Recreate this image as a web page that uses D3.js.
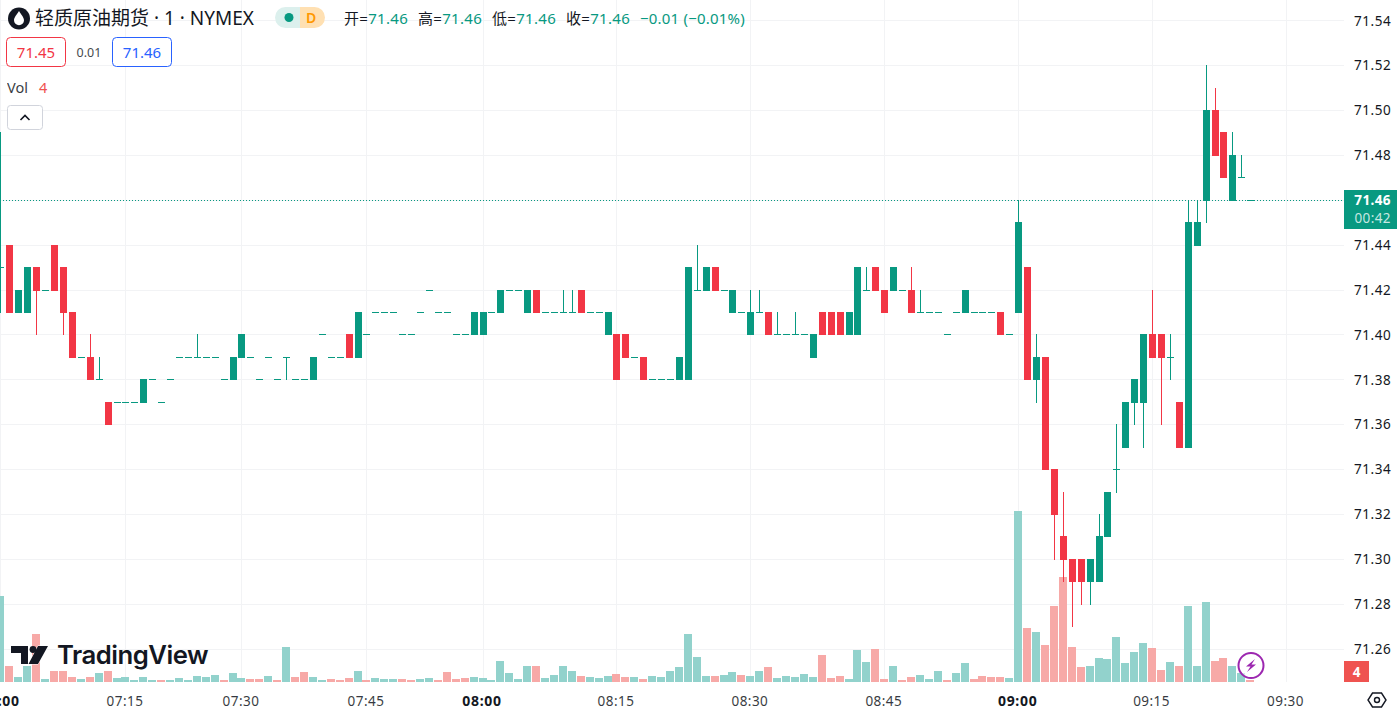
<!DOCTYPE html>
<html><head><meta charset="utf-8">
<style>
html,body{margin:0;padding:0;background:#fff;overflow:hidden}
svg{display:block}
text{font-family:"Noto Sans","Noto Sans CJK SC",sans-serif;fill:#131722}
</style>
<script src="https://cdnjs.cloudflare.com/ajax/libs/d3/7.9.0/d3.min.js"></script>
</head><body><svg id="c" width="1397" height="713"></svg>
<script>
const opens=[71.43,71.44,71.41,71.41,71.43,71.42,71.44,71.43,71.41,71.39,
71.39,71.38,71.37,71.37,71.37,71.37,71.37,71.38,71.37,71.38,
71.39,71.39,71.39,71.39,71.39,71.38,71.38,71.39,71.39,71.38,
71.39,71.38,71.39,71.38,71.38,71.38,71.40,71.39,71.39,71.40,
71.39,71.40,71.41,71.41,71.41,71.40,71.40,71.41,71.42,71.41,
71.41,71.40,71.40,71.40,71.40,71.41,71.41,71.42,71.42,71.41,
71.42,71.41,71.41,71.41,71.41,71.42,71.41,71.41,71.40,71.40,
71.40,71.39,71.39,71.38,71.38,71.38,71.38,71.38,71.42,71.42,
71.43,71.42,71.41,71.41,71.40,71.41,71.41,71.40,71.40,71.40,
71.40,71.39,71.41,71.41,71.41,71.40,71.40,71.42,71.43,71.42,
71.42,71.42,71.42,71.41,71.41,71.41,71.40,71.41,71.41,71.41,
71.41,71.41,71.41,71.40,71.41,71.43,71.38,71.39,71.34,71.31,
71.30,71.30,71.29,71.29,71.31,71.34,71.35,71.37,71.37,71.40,
71.40,71.39,71.37,71.35,71.44,71.46,71.50,71.49,71.46,71.47,71.46];
const closes=[71.43,71.41,71.42,71.43,71.42,71.42,71.42,71.41,71.39,71.39,
71.38,71.38,71.36,71.37,71.37,71.37,71.38,71.38,71.37,71.38,
71.39,71.39,71.39,71.39,71.39,71.38,71.39,71.40,71.39,71.38,
71.39,71.38,71.39,71.38,71.38,71.39,71.40,71.39,71.39,71.39,
71.41,71.40,71.41,71.41,71.41,71.40,71.40,71.41,71.42,71.41,
71.41,71.40,71.40,71.41,71.41,71.41,71.42,71.42,71.42,71.42,
71.41,71.41,71.41,71.41,71.41,71.41,71.41,71.41,71.41,71.38,
71.39,71.39,71.38,71.38,71.38,71.38,71.39,71.43,71.42,71.43,
71.42,71.42,71.42,71.41,71.41,71.41,71.40,71.40,71.40,71.40,
71.40,71.40,71.40,71.40,71.40,71.41,71.43,71.42,71.42,71.41,
71.43,71.42,71.41,71.41,71.41,71.41,71.40,71.41,71.42,71.41,
71.41,71.41,71.40,71.40,71.45,71.38,71.39,71.34,71.32,71.30,
71.29,71.29,71.30,71.31,71.33,71.34,71.37,71.38,71.40,71.39,
71.39,71.39,71.35,71.45,71.45,71.50,71.48,71.47,71.48,71.47,71.46];
const highs=[71.49,71.44,71.42,71.43,71.43,71.42,71.44,71.43,71.41,71.39,
71.40,71.39,71.37,71.37,71.37,71.37,71.38,71.38,71.37,71.38,
71.39,71.39,71.40,71.39,71.39,71.38,71.39,71.40,71.39,71.38,
71.39,71.38,71.39,71.38,71.38,71.39,71.40,71.39,71.39,71.40,
71.41,71.40,71.41,71.41,71.41,71.40,71.40,71.41,71.42,71.41,
71.41,71.40,71.40,71.41,71.41,71.41,71.42,71.42,71.42,71.42,
71.42,71.41,71.41,71.42,71.42,71.42,71.41,71.41,71.41,71.40,
71.40,71.39,71.39,71.38,71.38,71.38,71.39,71.43,71.44,71.43,
71.43,71.42,71.42,71.41,71.42,71.42,71.41,71.41,71.40,71.41,
71.40,71.40,71.41,71.41,71.41,71.41,71.43,71.43,71.43,71.42,
71.43,71.42,71.43,71.42,71.41,71.41,71.40,71.41,71.42,71.41,
71.41,71.41,71.41,71.40,71.46,71.43,71.40,71.39,71.34,71.33,
71.30,71.30,71.30,71.32,71.33,71.36,71.37,71.38,71.40,71.42,
71.40,71.40,71.37,71.46,71.46,71.52,71.51,71.49,71.49,71.48,71.46];
const lows=[71.41,71.41,71.41,71.41,71.40,71.42,71.42,71.40,71.39,71.39,
71.38,71.38,71.36,71.37,71.37,71.37,71.37,71.38,71.37,71.38,
71.39,71.39,71.39,71.39,71.39,71.38,71.38,71.39,71.39,71.38,
71.39,71.38,71.38,71.38,71.38,71.38,71.40,71.39,71.39,71.39,
71.39,71.40,71.41,71.41,71.41,71.40,71.40,71.41,71.42,71.41,
71.41,71.40,71.40,71.40,71.40,71.41,71.41,71.42,71.42,71.41,
71.41,71.41,71.41,71.41,71.41,71.41,71.41,71.41,71.40,71.38,
71.39,71.39,71.38,71.38,71.38,71.38,71.38,71.38,71.42,71.42,
71.42,71.42,71.41,71.41,71.40,71.41,71.40,71.40,71.40,71.40,
71.40,71.39,71.40,71.40,71.40,71.40,71.40,71.42,71.42,71.41,
71.42,71.42,71.41,71.41,71.41,71.41,71.40,71.41,71.41,71.41,
71.41,71.41,71.40,71.40,71.41,71.38,71.37,71.34,71.30,71.29,
71.27,71.28,71.28,71.29,71.31,71.33,71.35,71.36,71.35,71.39,
71.36,71.38,71.35,71.35,71.44,71.45,71.48,71.47,71.46,71.47,71.46];
const volumes=[172,32,10,32,96,6,22,22,10,6,
10,18,22,8,10,4,10,4,4,4,
8,4,12,10,14,4,18,8,6,6,
12,4,70,10,20,10,4,6,4,8,
22,4,8,6,6,6,4,6,8,4,
20,6,8,10,8,4,42,18,6,32,
32,8,14,32,22,12,10,8,12,16,
10,10,6,12,10,22,30,96,50,12,
12,14,20,14,12,22,30,8,12,10,
16,10,54,8,12,6,64,40,66,6,
32,4,10,14,6,22,4,18,38,6,
12,10,10,8,342,108,100,74,152,210,
70,30,32,48,46,90,38,60,78,68,
24,40,32,152,32,160,42,48,32,18,4];
const volumeDownBars=[1,4,6,7,8,10,12,18,25,28,29,31,33,34,37,38,39,41,45,46,49,50,51,52,60,65,69,70,72,80,83,86,92,93,94,98,99,101,102,106,109,110,111,112,115,117,118,119,120,121,129,130,132,136,137,140];
const timeTickBars=[0,14,27,41,54,69,84,99,114,129,144];
const timeTickLabels=["07:00","07:15","07:30","07:45","08:00","08:15","08:30","08:45","09:00","09:15","09:30"];
const boldTimeLabels=["07:00","08:00","09:00"];
const priceTicks=[71.26,71.28,71.30,71.32,71.34,71.36,71.38,71.40,71.42,71.44,71.46,71.48,71.50,71.52,71.54];
const lastPrice=71.46, lastVolume=4;
const titleText="轻质原油期货 · 1 · NYMEX";
const ohlcParts=[["开=","71.46"],["高=","71.46"],["低=","71.46"],["收=","71.46"]];
const changeText="−0.01 (−0.01%)";

const GREEN="#089981",RED="#f23645",TEXT="#131722",GRID="#f2f3f5";
const PANE_W=1344,PANE_B=682;
const svg=d3.select("#c");
const x=d3.scaleLinear().domain([0,114]).range([0.964,1018.665]);
const y=d3.scaleLinear().domain([71.26,71.54]).range([649.1,20.7]);
const yVol=d3.scaleLinear().domain([0,342]).range([PANE_B,511]);
const xc=i=>Math.floor(x(i));
const yp=v=>Math.floor(y(v));
const n=opens.length,bars=d3.range(n);
const isDownVol=new Set(volumeDownBars);

// grid
const grid=svg.append("g").attr("shape-rendering","crispEdges").attr("stroke",GRID);
grid.selectAll("line.h").data(priceTicks).join("line").attr("class","h")
 .attr("x1",0).attr("x2",PANE_W).attr("y1",d=>yp(d)+.5).attr("y2",d=>yp(d)+.5);
grid.selectAll("line.v").data(timeTickBars).join("line").attr("class","v")
 .attr("x1",d=>xc(d)+.5).attr("x2",d=>xc(d)+.5).attr("y1",0).attr("y2",PANE_B);

// volume
svg.append("g").attr("shape-rendering","crispEdges").selectAll("rect").data(bars).join("rect")
 .attr("x",i=>xc(i)-4).attr("width",8)
 .attr("y",i=>yVol(volumes[i])).attr("height",i=>PANE_B-yVol(volumes[i]))
 .attr("fill",i=>isDownVol.has(i)?"#f7a9a7":"#92d2cc");

// candles
const candle=svg.append("g").attr("shape-rendering","crispEdges");
candle.selectAll("rect.w").data(bars).join("rect").attr("class","w")
 .attr("x",i=>xc(i)).attr("width",1)
 .attr("y",i=>yp(highs[i])).attr("height",i=>yp(lows[i])-yp(highs[i])+1)
 .attr("fill",i=>closes[i]<opens[i]?RED:GREEN);
candle.selectAll("rect.b").data(bars).join("rect").attr("class","b")
 .attr("x",i=>xc(i)-3).attr("width",7)
 .attr("y",i=>yp(Math.max(opens[i],closes[i])))
 .attr("height",i=>yp(Math.min(opens[i],closes[i]))-yp(Math.max(opens[i],closes[i]))+1)
 .attr("fill",i=>closes[i]<opens[i]?RED:GREEN);

// last price line
svg.append("line").attr("x1",0).attr("x2",PANE_W).attr("y1",yp(lastPrice)+.5).attr("y2",yp(lastPrice)+.5)
 .attr("stroke",GREEN).attr("stroke-width",1).attr("stroke-dasharray","1 2");

// price axis
const yAxis=d3.axisRight(y).tickValues(priceTicks.filter(v=>v!==lastPrice)).tickSize(0).tickPadding(0).tickFormat(d3.format(".2f"));
const gy=svg.append("g").attr("transform",`translate(1354,0)`).call(yAxis);
gy.select(".domain").remove();
gy.selectAll("text").attr("font-size",13.5).style("letter-spacing","0.55px").attr("fill",TEXT).style("font-family",'"Noto Sans"');

// time axis
const timeLabel=new Map(timeTickBars.map((b,i)=>[b,timeTickLabels[i]]));
const xAxis=d3.axisBottom(x).tickValues(timeTickBars).tickSize(0).tickPadding(0).tickFormat(b=>timeLabel.get(b));
const gx=svg.append("g").attr("transform",`translate(-1.5,696)`).call(xAxis);
gx.select(".domain").remove();
gx.selectAll("text")
 .attr("font-size",b=>boldTimeLabels.includes(timeLabel.get(b))?14:13.5)
 .style("letter-spacing",b=>boldTimeLabels.includes(timeLabel.get(b))?"0.7px":"0.45px")
 .attr("font-weight",b=>boldTimeLabels.includes(timeLabel.get(b))?700:400).attr("fill",TEXT).style("opacity",b=>boldTimeLabels.includes(timeLabel.get(b))?1:.85);

// price label
svg.append("rect").attr("x",PANE_W).attr("y",190).attr("width",53).attr("height",39).attr("fill",GREEN);
svg.append("text").attr("x",1391).attr("y",205).attr("text-anchor","end").attr("font-size",13.5).attr("font-weight",700).style("fill","#fff").style("letter-spacing","0.4px").text(d3.format(".2f")(lastPrice));
svg.append("text").attr("x",1391).attr("y",223).attr("text-anchor","end").attr("font-size",13.5).style("fill","#c6e8e2").style("letter-spacing","0.4px").text("00:42");
// volume label
svg.append("rect").attr("x",PANE_W).attr("y",661).attr("width",25).attr("height",21).attr("fill","#ef5350");
svg.append("text").attr("x",1356.5).attr("y",677).attr("text-anchor","middle").attr("font-size",13.5).attr("font-weight",700).style("fill","#fff").text(lastVolume);

// header
const h=svg.append("g");
h.append("circle").attr("cx",19).attr("cy",18.5).attr("r",11).attr("fill","#131722");
h.append("path").attr("d","M19 11 C21.5 15 24 17.5 24 20.2 A5 5 0 0 1 14 20.2 C14 17.5 16.5 15 19 11 Z").attr("fill","#fff");
h.append("text").attr("x",35).attr("y",24.5).attr("font-size",19).text(titleText);
h.append("path").attr("d","M300 7 H285.5 A10.5 10.5 0 0 0 285.5 28 H300 Z").attr("fill","#dcf0ed");
h.append("path").attr("d","M300 7 H314.5 A10.5 10.5 0 0 1 314.5 28 H300 Z").attr("fill","#ffe0b2");
h.append("circle").attr("cx",289).attr("cy",17.5).attr("r",4.5).attr("fill",GREEN);
h.append("text").attr("x",311).attr("y",22.5).attr("text-anchor","middle").attr("font-size",14).attr("font-weight",600).style("fill","#ff9800").text("D");
ohlcParts.forEach((p,i)=>{
  const t=h.append("text").attr("x",344+i*74).attr("y",24).attr("font-size",15).style("letter-spacing","0.3px");
  t.append("tspan").text(p[0]);
  t.append("tspan").style("fill",GREEN).text(p[1]);
});
h.append("text").attr("x",640).attr("y",24).attr("font-size",15).style("letter-spacing","0.2px").style("fill",GREEN).text(changeText);
h.append("rect").attr("x",6.5).attr("y",37.5).attr("width",59).attr("height",29).attr("rx",4).attr("fill","#fff").attr("stroke",RED);
h.append("text").attr("x",36).attr("y",58).attr("text-anchor","middle").attr("font-size",15).style("fill",RED).text("71.45");
h.append("text").attr("x",89).attr("y",57).attr("text-anchor","middle").attr("font-size",12.5).attr("opacity",.8).text("0.01");
h.append("rect").attr("x",112.5).attr("y",37.5).attr("width",59).attr("height",29).attr("rx",4).attr("fill","#fff").attr("stroke","#2962ff");
h.append("text").attr("x",142).attr("y",58).attr("text-anchor","middle").attr("font-size",15).style("fill","#2962ff").text("71.46");
h.append("text").attr("x",7).attr("y",92.5).attr("font-size",14.5).attr("opacity",.85).text("Vol");
h.append("text").attr("x",39).attr("y",92.5).attr("font-size",14.5).style("fill","#ef5350").text(lastVolume);
h.append("rect").attr("x",7.5).attr("y",105.5).attr("width",35).attr("height",24).attr("rx",3).attr("fill","#fff").attr("stroke","#d1d4dc");
h.append("path").attr("d","M20.5 120 L25 115.5 L29.5 120").attr("fill","none").attr("stroke",TEXT).attr("stroke-width",1.6);

// watermark
const w=svg.append("g");
w.append("path").attr("d","M11 646H28V664H21V653H11Z M38 646H48L38 664H28.5Z").attr("fill",TEXT).attr("stroke","#fff").attr("stroke-width",1).attr("paint-order","stroke");
w.append("circle").attr("cx",33).attr("cy",649.5).attr("r",3.4).attr("fill",TEXT);
w.append("text").attr("x",57).attr("y",664).attr("font-size",25.7).attr("font-weight",600).style("font-family","Inter").style("fill",TEXT).style("letter-spacing","-0.5px").text("TradingView");

// lightning badge
const b=svg.append("g");
b.append("circle").attr("cx",1251).attr("cy",665.5).attr("r",12.5).attr("fill","#fff").attr("fill-opacity",.6).attr("stroke","#9c27b0").attr("stroke-width",2);
b.append("path").attr("d","M1255 659 L1246 666.5 H1250.5 L1247 672 L1256 664.5 H1251.5 Z").attr("fill","#9c27b0");

// settings
const s=svg.append("g").attr("fill","none").attr("stroke",TEXT).attr("stroke-width",1.4);
s.append("path").attr("d","M1372.5 693H1381.5L1386 700L1381.5 707H1372.5L1368 700Z");
s.append("circle").attr("cx",1377).attr("cy",700).attr("r",2.5);
</script></body></html>
